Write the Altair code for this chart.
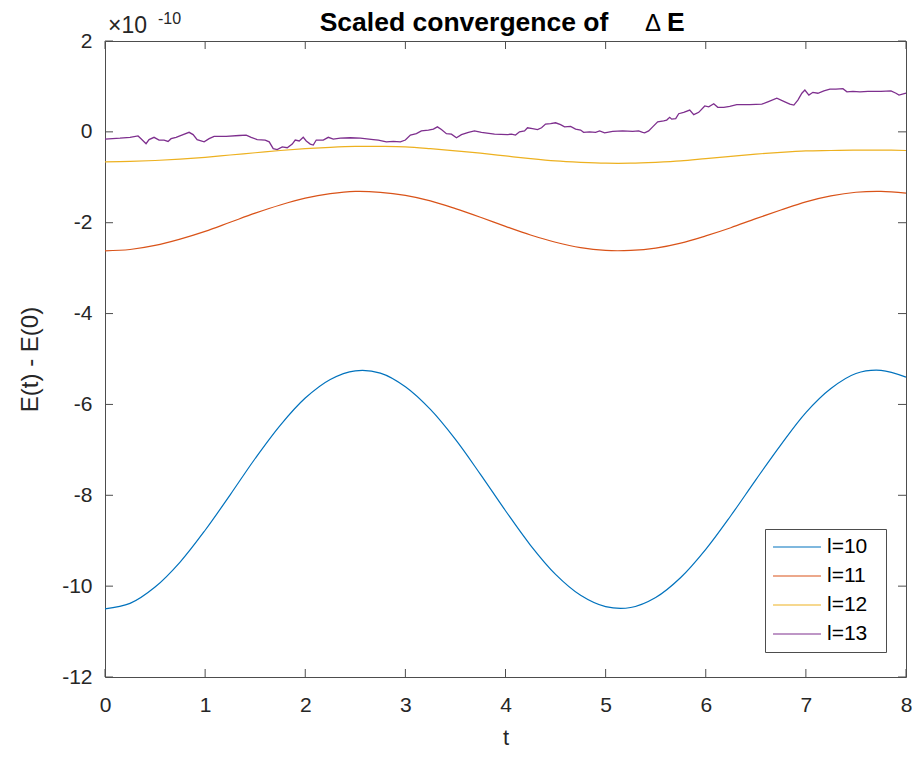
import altair as alt
import pandas as pd

# ---------------- data (values in units of 1e-10) ----------------
t_smooth = [0.0, 0.25, 0.5, 0.75, 1.0, 1.25, 1.5, 1.75, 2.0, 2.25, 2.5, 2.75, 3.0,
            3.25, 3.5, 3.75, 4.0, 4.25, 4.5, 4.75, 5.0, 5.25, 5.5, 5.75, 6.0,
            6.25, 6.5, 6.75, 7.0, 7.25, 7.5, 7.75, 8.0]

l10 = [-10.50, -10.38, -10.02, -9.47, -8.77, -7.99, -7.19, -6.46, -5.86, -5.45,
       -5.26, -5.31, -5.61, -6.11, -6.77, -7.54, -8.34, -9.10, -9.74, -10.20,
       -10.45, -10.47, -10.25, -9.81, -9.19, -8.45, -7.66, -6.89, -6.18, -5.65,
       -5.32, -5.25, -5.40]

l11 = [-2.62, -2.59, -2.50, -2.36, -2.19, -1.99, -1.79, -1.61, -1.46, -1.36,
       -1.31, -1.33, -1.40, -1.52, -1.69, -1.88, -2.08, -2.27, -2.43, -2.55,
       -2.61, -2.61, -2.56, -2.45, -2.29, -2.11, -1.91, -1.72, -1.54, -1.41,
       -1.33, -1.31, -1.35]

l12 = [-0.66, -0.65, -0.63, -0.60, -0.56, -0.51, -0.46, -0.41, -0.37, -0.34,
       -0.32, -0.32, -0.33, -0.37, -0.42, -0.47, -0.53, -0.59, -0.64, -0.67,
       -0.69, -0.69, -0.67, -0.64, -0.59, -0.54, -0.49, -0.45, -0.42, -0.41,
       -0.40, -0.40, -0.41]

t13 = [0.00, 0.15, 0.25, 0.33, 0.36, 0.41, 0.44, 0.49, 0.54, 0.59, 0.63, 0.66,
       0.71, 0.78, 0.84, 0.88, 0.92, 0.99, 1.04, 1.09, 1.21, 1.34, 1.41, 1.46,
       1.52, 1.60, 1.64, 1.68, 1.72, 1.77, 1.82, 1.87, 1.90, 1.94, 1.98, 2.01,
       2.05, 2.08, 2.11, 2.18, 2.23, 2.28, 2.35, 2.45, 2.55, 2.68, 2.73, 2.81,
       2.88, 2.95, 3.00, 3.05, 3.11, 3.16, 3.23, 3.28, 3.32, 3.36, 3.41, 3.46,
       3.51, 3.56, 3.63, 3.69, 3.76, 3.89, 4.02, 4.06, 4.10, 4.14, 4.19, 4.22,
       4.27, 4.32, 4.36, 4.40, 4.45, 4.50, 4.55, 4.59, 4.65, 4.70, 4.75, 4.78,
       4.84, 4.90, 4.94, 4.99, 5.07, 5.17, 5.27, 5.33, 5.37, 5.39, 5.43, 5.47,
       5.52, 5.58, 5.61, 5.64, 5.66, 5.70, 5.73, 5.78, 5.84, 5.88, 5.93, 5.99,
       6.03, 6.08, 6.12, 6.18, 6.24, 6.31, 6.44, 6.56, 6.62, 6.71, 6.79, 6.84,
       6.88, 6.92, 6.96, 6.99, 7.03, 7.07, 7.12, 7.18, 7.24, 7.30, 7.37, 7.41,
       7.47, 7.54, 7.62, 7.75, 7.85, 7.90, 7.93, 8.00]

l13 = [-0.16, -0.14, -0.12, -0.09, -0.15, -0.26, -0.17, -0.12, -0.18, -0.18, -0.21, -0.15,
       -0.12, -0.06, -0.01, -0.06, -0.17, -0.22, -0.15, -0.10, -0.10, -0.08, -0.07, -0.12,
       -0.17, -0.18, -0.22, -0.37, -0.39, -0.33, -0.35, -0.27, -0.18, -0.20, -0.12, -0.20,
       -0.27, -0.29, -0.18, -0.18, -0.12, -0.16, -0.14, -0.13, -0.14, -0.17, -0.18, -0.22,
       -0.21, -0.22, -0.18, -0.07, -0.04, 0.02, 0.04, 0.06, 0.11, 0.05, -0.04, -0.05,
       -0.13, -0.06, -0.01, 0.02, -0.01, -0.05, -0.06, -0.05, -0.07, 0.00, 0.02, 0.09,
       0.07, 0.05, 0.09, 0.17, 0.18, 0.20, 0.16, 0.11, 0.12, 0.06, 0.04, -0.01,
       0.00, -0.01, 0.02, -0.02, 0.01, 0.02, 0.01, 0.02, -0.01, -0.02, 0.02, 0.11,
       0.22, 0.24, 0.26, 0.32, 0.28, 0.29, 0.40, 0.43, 0.48, 0.38, 0.43, 0.57,
       0.55, 0.62, 0.54, 0.54, 0.56, 0.60, 0.60, 0.61, 0.66, 0.74, 0.66, 0.61,
       0.59, 0.70, 0.85, 0.92, 0.81, 0.87, 0.85, 0.90, 0.94, 0.94, 0.95, 0.88,
       0.89, 0.88, 0.89, 0.89, 0.90, 0.85, 0.81, 0.85]

series_names = ["l=10", "l=11", "l=12", "l=13"]
series_colors = ["#0072BD", "#D95319", "#EDB120", "#7E2F8E"]
x_ticks = [0, 1, 2, 3, 4, 5, 6, 7, 8]
y_ticks = [-12, -10, -8, -6, -4, -2, 0, 2]

title_main = "Scaled convergence of"
title_delta = "\u0394"
title_e = "E"
x_title = "t"
y_title = "E(t) - E(0)"
exp_base = "\u00d710"
exp_power = "-10"

# ---------------- tables ----------------
smooth_df = pd.concat([
    pd.DataFrame({"t": t_smooth, "v": vals, "series": name})
    for name, vals in zip(series_names[:3], [l10, l11, l12])
], ignore_index=True)
noisy_df = pd.DataFrame({"t": t13, "v": l13, "series": series_names[3]})
xt_df = pd.DataFrame({"t": x_ticks})
yt_df = pd.DataFrame({"v": y_ticks})
one_df = pd.DataFrame({"a": [0]})

# ---------------- styling ----------------
W, H = 801, 636
FONT = "Liberation Sans"
AX = "#262626"
FRAME = "#4d4d4d"
TICK = 8

x_scale = alt.Scale(domain=[0, 8], nice=False, zero=False)
y_scale = alt.Scale(domain=[-12, 2], nice=False, zero=False)
color_scale = alt.Scale(domain=series_names, range=series_colors)

x_axis = alt.Axis(values=x_ticks, title=x_title, tickSize=0, domain=False, grid=False,
                  labelPadding=17, labelFontSize=21, titleFontSize=22, titlePadding=12,
                  labelExpr="'' + datum.value", labelFlush=False)
y_axis = alt.Axis(values=y_ticks, title=y_title, tickSize=0, domain=False, grid=False,
                  labelPadding=13, labelFontSize=21, titleFontSize=24, titlePadding=19,
                  labelExpr="'' + datum.value", labelFlush=False)

# the (white) side title only widens the legend box to the reference's width
legend = alt.Legend(title="\u2014", titleOrient="right", titleColor="white",
                    titleFontSize=12, titlePadding=0,
                    orient="none", legendX=660, legendY=488,
                    strokeColor=FRAME, fillColor="white", padding=7,
                    labelFont=FONT, labelFontSize=21, labelColor="black",
                    symbolType="stroke", symbolSize=2300, symbolStrokeWidth=1.2,
                    labelOffset=5, rowPadding=7, clipHeight=22)

color_enc = alt.Color("series:N", scale=color_scale, legend=legend)
X = alt.X("t:Q", scale=x_scale, axis=x_axis)
Y = alt.Y("v:Q", scale=y_scale, axis=y_axis)

smooth = alt.Chart(smooth_df).mark_line(strokeWidth=1.2, interpolate="catmull-rom").encode(
    x=X, y=Y, color=color_enc)
noisy = alt.Chart(noisy_df).mark_line(strokeWidth=1.3).encode(
    x=X, y=Y, color=color_enc)

# inward ticks on all four sides (MATLAB box style)
xt_bottom = alt.Chart(xt_df).mark_rule(color=FRAME, strokeWidth=1).encode(
    x=X, y=alt.value(H), y2=alt.value(H - TICK))
xt_top = alt.Chart(xt_df).mark_rule(color=FRAME, strokeWidth=1).encode(
    x=X, y=alt.value(0), y2=alt.value(TICK))
yt_left = alt.Chart(yt_df).mark_rule(color=FRAME, strokeWidth=1).encode(
    y=Y, x=alt.value(0), x2=alt.value(TICK))
yt_right = alt.Chart(yt_df).mark_rule(color=FRAME, strokeWidth=1).encode(
    y=Y, x=alt.value(W), x2=alt.value(W - TICK))

def label(text, x, y, size, weight="normal", align="left", color=AX):
    return alt.Chart(one_df).mark_text(align=align, baseline="alphabetic", font=FONT,
                                       fontSize=size, fontWeight=weight, color=color).encode(
        x=alt.value(x), y=alt.value(y), text=alt.value(text))

texts = [
    label(exp_base, 3, -8, 23),
    label(exp_power, 53, -17, 16),
    label(title_main, 359, -10, 26.5, weight="bold", align="center", color="black"),
    label(title_delta, 548, -10, 24, align="center", color="black"),
    label(title_e, 562, -10, 26.5, weight="bold", color="black"),
]

chart = alt.layer(
    smooth, noisy, xt_bottom, xt_top, yt_left, yt_right, *texts
).properties(
    width=W, height=H,
    autosize=alt.AutoSizeParams(type="none"),
    padding={"left": 97, "top": 33, "right": 6, "bottom": 72},
    background="white",
).configure_view(
    stroke=FRAME, strokeWidth=1
).configure_axis(
    labelFont=FONT, titleFont=FONT, labelColor=AX, titleColor=AX,
    titleFontWeight="normal"
)

chart.save("out.html", embed_options={"renderer": "svg", "actions": False})
